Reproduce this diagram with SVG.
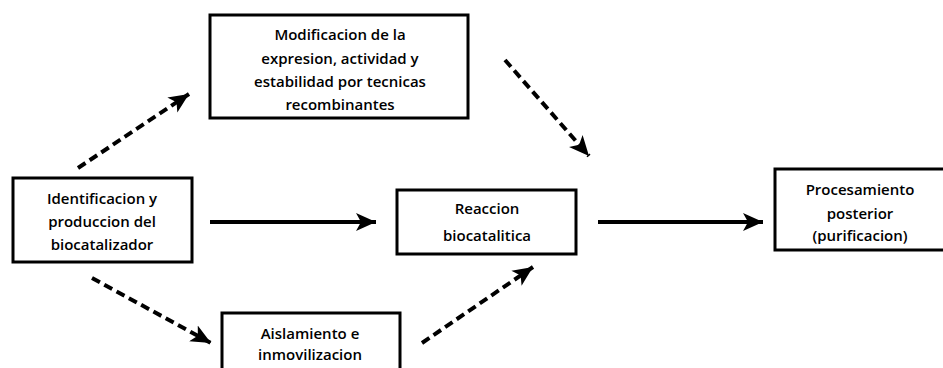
<svg xmlns="http://www.w3.org/2000/svg" width="943" height="368" viewBox="0 0 943 368">
<style>
.box{fill:#fff;stroke:#000;stroke-width:3}
.t{font-family:"Open Sans","Liberation Sans",sans-serif;font-size:15px;font-weight:600;fill:#000;text-anchor:middle;dominant-baseline:central}
.solid{stroke:#000;stroke-width:4;fill:none}
.dash{stroke:#000;stroke-width:4;fill:none;stroke-dasharray:9 5}
</style>
<defs>
<marker id="ah" markerUnits="userSpaceOnUse" markerWidth="22" markerHeight="20" refX="20" refY="10" orient="auto">
<path d="M0,1 L20,10 L0,19 L5,10 Z" fill="#000"/>
</marker>
</defs>
<rect width="943" height="368" fill="#fff"/>
<g id="connectors">
<line class="solid" x1="210" y1="222" x2="376" y2="222" marker-end="url(#ah)"/>
<line class="solid" x1="598" y1="222" x2="763" y2="222" marker-end="url(#ah)"/>
<line class="dash" x1="78" y1="168" x2="189" y2="94" marker-end="url(#ah)"/>
<line class="dash" x1="505" y1="60" x2="589" y2="156" marker-end="url(#ah)"/>
<line class="dash" x1="92" y1="278" x2="211" y2="343" marker-end="url(#ah)"/>
<line class="dash" x1="422" y1="343" x2="533" y2="267" marker-end="url(#ah)"/>
</g>
<g id="top">
<rect class="box" x="210" y="15" width="258" height="103"/>
<text class="t" x="340" y="34">Modificacion de la</text>
<text class="t" x="340" y="58">expresion, actividad y</text>
<text class="t" x="340" y="81">estabilidad por tecnicas</text>
<text class="t" x="340" y="104">recombinantes</text>
</g>
<g id="left">
<rect class="box" x="13" y="178" width="179" height="84"/>
<text class="t" x="102" y="198">Identificacion y</text>
<text class="t" x="102" y="221">produccion del</text>
<text class="t" x="102" y="244">biocatalizador</text>
</g>
<g id="reaction">
<rect class="box" x="397" y="190" width="179" height="64"/>
<text class="t" x="487" y="208">Reaccion</text>
<text class="t" x="487" y="235">biocatalitica</text>
</g>
<g id="right">
<rect class="box" x="775" y="169" width="172" height="81"/>
<text class="t" x="860" y="189">Procesamiento</text>
<text class="t" x="860" y="213">posterior</text>
<text class="t" x="860" y="235">(purificacion)</text>
</g>
<g id="bottom">
<rect class="box" x="222" y="313" width="178" height="70"/>
<text class="t" x="310" y="333">Aislamiento e</text>
<text class="t" x="310" y="354">inmovilizacion</text>
</g>
</svg>
